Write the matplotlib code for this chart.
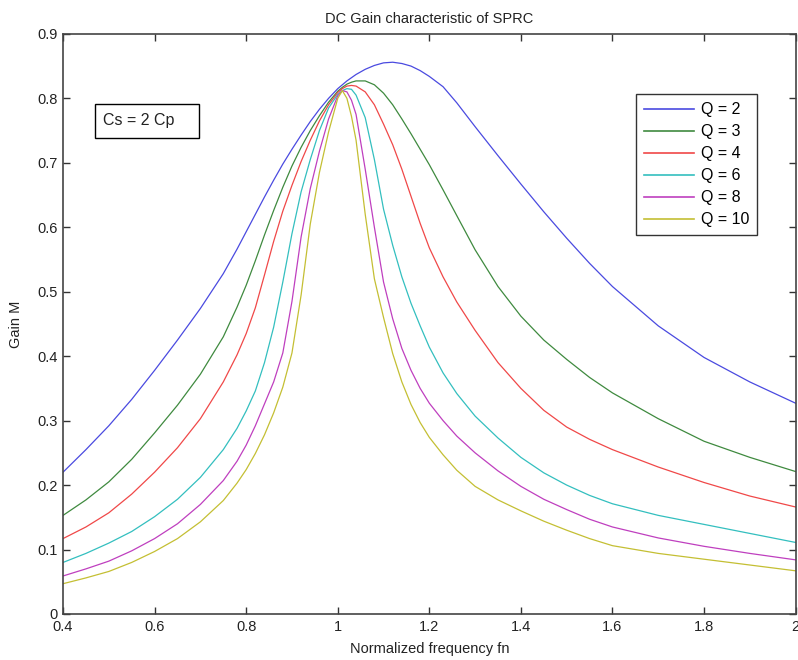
import numpy as np
import matplotlib
matplotlib.use("Agg")
import matplotlib.pyplot as plt
from matplotlib.patches import Rectangle

plt.rcParams['font.family'] = ['Liberation Sans', 'DejaVu Sans']

# Normalized frequency sample points
fn = [0.40, 0.45, 0.50, 0.55, 0.60, 0.65, 0.70, 0.75, 0.78, 0.80, 0.82, 0.84, 0.86, 0.88,
      0.90, 0.92, 0.94, 0.96, 0.98, 1.00, 1.01, 1.02, 1.03, 1.04, 1.06, 1.08, 1.10, 1.12,
      1.14, 1.16, 1.18, 1.20, 1.23, 1.26, 1.30, 1.35, 1.40, 1.45, 1.50, 1.55, 1.60, 1.70,
      1.80, 1.90, 2.00]

# Gain M for each quality factor
gain_q2 = [0.220, 0.255, 0.292, 0.333, 0.378, 0.425, 0.474, 0.528, 0.566, 0.593, 0.620, 0.647,
           0.673, 0.698, 0.721, 0.743, 0.764, 0.783, 0.800, 0.815, 0.821, 0.827, 0.832, 0.837,
           0.845, 0.851, 0.855, 0.856, 0.854, 0.850, 0.843, 0.834, 0.818, 0.793, 0.756, 0.711,
           0.667, 0.624, 0.583, 0.544, 0.508, 0.447, 0.398, 0.360, 0.327]
gain_q3 = [0.153, 0.177, 0.205, 0.240, 0.281, 0.324, 0.372, 0.430, 0.476, 0.510, 0.548, 0.588,
           0.626, 0.662, 0.695, 0.724, 0.750, 0.773, 0.794, 0.811, 0.817, 0.822, 0.825, 0.827,
           0.827, 0.821, 0.808, 0.790, 0.768, 0.745, 0.721, 0.697, 0.658, 0.618, 0.565, 0.508,
           0.462, 0.425, 0.395, 0.367, 0.343, 0.303, 0.268, 0.243, 0.221]
gain_q4 = [0.117, 0.135, 0.157, 0.186, 0.220, 0.258, 0.303, 0.360, 0.402, 0.435, 0.475, 0.526,
           0.578, 0.625, 0.665, 0.702, 0.735, 0.765, 0.790, 0.809, 0.815, 0.819, 0.820, 0.819,
           0.810, 0.790, 0.760, 0.728, 0.690, 0.648, 0.606, 0.568, 0.523, 0.484, 0.440, 0.390,
           0.350, 0.316, 0.290, 0.271, 0.255, 0.228, 0.204, 0.183, 0.166]
gain_q6 = [0.080, 0.094, 0.110, 0.128, 0.151, 0.178, 0.212, 0.255, 0.288, 0.315, 0.346, 0.390,
           0.445, 0.515, 0.590, 0.655, 0.705, 0.750, 0.785, 0.806, 0.812, 0.815, 0.814, 0.805,
           0.770, 0.705, 0.628, 0.572, 0.523, 0.482, 0.447, 0.414, 0.374, 0.342, 0.307, 0.273,
           0.243, 0.219, 0.200, 0.184, 0.171, 0.153, 0.139, 0.125, 0.111]
gain_q8 = [0.059, 0.070, 0.082, 0.098, 0.117, 0.140, 0.170, 0.207, 0.237, 0.262, 0.292, 0.326,
           0.360, 0.405, 0.485, 0.585, 0.660, 0.718, 0.768, 0.804, 0.812, 0.810, 0.797, 0.775,
           0.690, 0.600, 0.515, 0.458, 0.412, 0.378, 0.350, 0.327, 0.300, 0.276, 0.250, 0.222,
           0.198, 0.178, 0.162, 0.147, 0.135, 0.118, 0.105, 0.094, 0.084]
gain_q10 = [0.047, 0.056, 0.066, 0.080, 0.097, 0.117, 0.143, 0.176, 0.203, 0.224, 0.249, 0.278,
            0.312, 0.352, 0.405, 0.495, 0.605, 0.685, 0.748, 0.800, 0.812, 0.800, 0.772, 0.735,
            0.620, 0.520, 0.460, 0.404, 0.360, 0.325, 0.297, 0.274, 0.247, 0.223, 0.198, 0.177,
            0.160, 0.144, 0.130, 0.117, 0.106, 0.094, 0.085, 0.076, 0.067]

labels = ['Q = 2', 'Q = 3', 'Q = 4', 'Q = 6', 'Q = 8', 'Q = 10']
colors = ['#4a4ae0', '#3f8a3f', '#f04848', '#33bfbf', '#bf3fbf', '#c4bf33']

fig = plt.figure(figsize=(7.98, 6.60), dpi=100)
ax = fig.add_axes([0.079, 0.0697, 0.918, 0.879])

for g, lab, col in zip([gain_q2, gain_q3, gain_q4, gain_q6, gain_q8, gain_q10], labels, colors):
    ax.plot(fn, g, color=col, linewidth=0.9, label=lab)

ax.set_xlim(0.4, 2.0)
ax.set_ylim(0, 0.9)
ax.set_xticks(np.arange(0.4, 2.01, 0.2))
ax.set_xticklabels(['0.4', '0.6', '0.8', '1', '1.2', '1.4', '1.6', '1.8', '2'])
ax.set_yticks(np.arange(0, 0.91, 0.1))
ax.set_yticklabels(['0', '0.1', '0.2', '0.3', '0.4', '0.5', '0.6', '0.7', '0.8', '0.9'])
ax.tick_params(direction='in', top=True, right=True, length=5, width=1,
               labelsize=10.5, pad=4, colors='#333333', labelcolor='#222222')
for sp in ax.spines.values():
    sp.set_color('#444444')
    sp.set_linewidth(1.2)

ax.set_title('DC Gain characteristic of SPRC', fontsize=10.5, pad=8, color='#222222')
ax.set_xlabel('Normalized frequency fn', fontsize=10.5, labelpad=6, color='#222222')
ax.set_ylabel('Gain M', fontsize=10.5, labelpad=10, color='#222222')

# annotation box
ax.add_patch(Rectangle((0.0437, 0.8212), 0.142, 0.0574, transform=ax.transAxes,
                       facecolor='white', edgecolor='black', linewidth=1, zorder=5))
ax.text(0.0546, 0.8499, 'Cs = 2 Cp', transform=ax.transAxes, fontsize=11.5,
        color='#222222', va='center', ha='left', zorder=6)

leg = ax.legend(loc='upper left', bbox_to_anchor=(636 / 798, 1 - 94.3 / 660),
                bbox_transform=fig.transFigure, fontsize=11.5, frameon=True, fancybox=False,
                edgecolor='black', handlelength=3.1, handletextpad=0.45, labelspacing=0.44,
                borderpad=0.5, borderaxespad=0)
leg.get_frame().set_linewidth(1.0)
for line in leg.get_lines():
    line.set_linewidth(1.2)

fig.savefig('out.png', dpi=100)
